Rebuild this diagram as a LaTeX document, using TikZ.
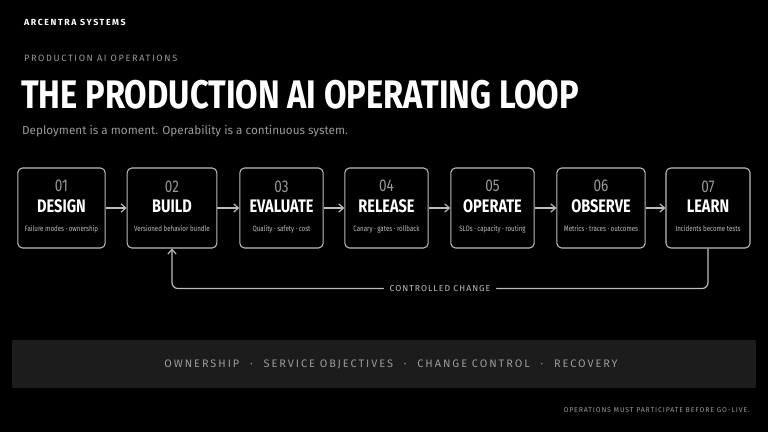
\documentclass[tikz,border=0pt]{standalone}
\usepackage{fontspec}
\setmainfont{Fira Sans}
\newfontfamily\spaced[LetterSpace=18]{Fira Sans}
\newfontfamily\spacedmed[LetterSpace=12]{Fira Sans}
\usetikzlibrary{positioning,arrows.meta}
\definecolor{bg}{HTML}{000000}
\definecolor{edge}{HTML}{BDBDBD}
\definecolor{soft}{HTML}{9A9A9A}
\definecolor{band}{HTML}{1C1C1C}
\tikzset{
  stage/.style = {draw=edge, line width=0.9pt, rounded corners=4pt, fill=bg,
                 minimum width=2.5cm, minimum height=2.4cm, inner sep=0pt},
  flow/.style = {-{Straight Barb[length=4pt,width=7pt]}, draw=edge, line width=1pt}
}
\newcommand{\stagebox}[3]{%
  \begin{tabular}{c}
  {\fontsize{14.5}{16}\selectfont\color{soft}\scalebox{0.8}[1]{#1}}\\[3pt]
  {\fontsize{15.5}{17}\selectfont\bfseries\color{white}\scalebox{0.8}[1]{#2}}\\[4pt]
  {\fontsize{6.6}{8}\selectfont\color{edge}\scalebox{0.8}[1]{#3}}
  \end{tabular}}
\begin{document}
\begin{tikzpicture}[x=0.03cm, y=-0.03cm]
  % background
  \fill[bg] (0,0) rectangle (768,432);
  \useasboundingbox (0,0) rectangle (768,432);
  % headings
  \node[anchor=west, text=white, font=\spaced\fontsize{7.5}{9}\selectfont\bfseries] (brand) at (20,22) {ARCENTRA SYSTEMS};
  \node[anchor=west, text=soft, font=\spaced\fontsize{7.8}{9}\selectfont] (kicker) at (20,58) {PRODUCTION AI OPERATIONS};
  \node[anchor=west, text=white, font=\fontsize{34}{36}\selectfont\bfseries, inner sep=0pt] (title) at (21,95) {\scalebox{0.82}[1]{THE PRODUCTION AI OPERATING LOOP}};
  \node[anchor=west, text=soft, font=\fontsize{10}{12}\selectfont] (sub) at (18,131) {Deployment is a moment. Operability is a continuous system.};
  % STAGES
  \node[stage, minimum width=2.55cm] (design) at (61.5,208) {\stagebox{01}{DESIGN}{Failure modes · ownership}};
  \node[stage, minimum width=2.58cm] (build) at (172,208) {\stagebox{02}{BUILD}{Versioned behavior bundle}};
  \node[stage] (evaluate) at (281.5,208) {\stagebox{03}{EVALUATE}{Quality · safety · cost}};
  \node[stage] (release) at (386.5,208) {\stagebox{04}{RELEASE}{Canary · gates · rollback}};
  \node[stage] (operate) at (492.5,208) {\stagebox{05}{OPERATE}{SLOs · capacity · routing}};
  \node[stage, minimum width=2.52cm] (observe) at (601,208) {\stagebox{06}{OBSERVE}{Metrics · traces · outcomes}};
  \node[stage, minimum width=2.52cm] (learn) at (708,208) {\stagebox{07}{LEARN}{Incidents become tests}};
  % ARROWS
  \draw[flow] (design) -- (build);
  \draw[flow] (build) -- (evaluate);
  \draw[flow] (evaluate) -- (release);
  \draw[flow] (release) -- (operate);
  \draw[flow] (operate) -- (observe);
  \draw[flow] (observe) -- (learn);
  \draw[flow, rounded corners=5pt] (learn.south) -- ++(0,40) -| (build.south)
    node[pos=0.25, fill=bg, text=edge, inner xsep=5pt, font=\spacedmed\fontsize{7.4}{8}\selectfont] (loop) {CONTROLLED CHANGE};
  % footer band
  \fill[band] (12,340) rectangle (756,388);
  \node[text=soft, font=\spaced\fontsize{9.3}{10}\selectfont] (pillars) at (391,364)
    {OWNERSHIP\quad·\quad SERVICE OBJECTIVES\quad·\quad CHANGE CONTROL\quad·\quad RECOVERY};
  \node[anchor=east, text=soft, font=\spacedmed\fontsize{6}{7}\selectfont] (note) at (754,410) {OPERATIONS MUST PARTICIPATE BEFORE GO-LIVE.};
\end{tikzpicture}
\end{document}
